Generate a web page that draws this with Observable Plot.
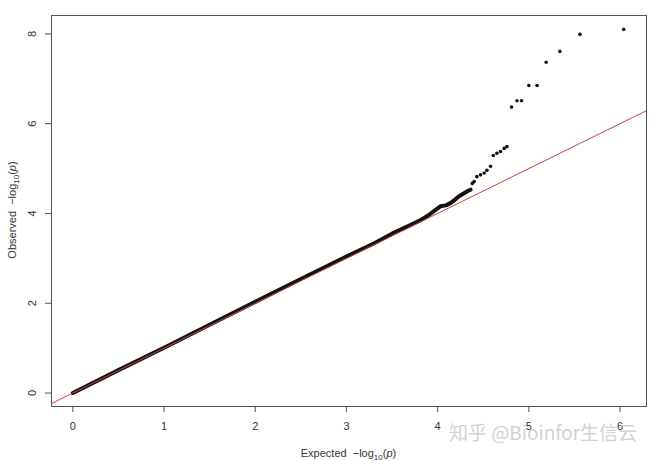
<!DOCTYPE html>
<html>
<head>
<meta charset="utf-8">
<script src="https://cdn.jsdelivr.net/npm/d3@7"></script>
<script src="https://cdn.jsdelivr.net/npm/@observablehq/plot@0.6"></script>
<style>
  html, body { margin: 0; padding: 0; background: #fff; }
  #chart svg { display: block; }
</style>
</head>
<body>
<div id="chart"></div>
<script>
// Dense body of the QQ plot (read along the thick band)
const expectedDense = [0, 0.5, 1.0, 1.5, 2.0, 2.5, 3.0, 3.3, 3.5, 3.7, 3.81, 3.9, 3.97, 4.03, 4.09, 4.14, 4.18, 4.23, 4.29, 4.33, 4.36];
const observedDense = [0, 0.51, 1.01, 1.52, 2.03, 2.54, 3.04, 3.33, 3.55, 3.74, 3.85, 3.96, 4.07, 4.16, 4.18, 4.23, 4.29, 4.38, 4.45, 4.50, 4.53];
// Sparse tail points
const expectedTail = [4.38, 4.40, 4.43, 4.47, 4.51, 4.54, 4.58, 4.61, 4.65, 4.69, 4.73, 4.76, 4.81, 4.87, 4.92, 5.00, 5.09, 5.19, 5.34, 5.56, 6.04];
const observedTail = [4.67, 4.71, 4.82, 4.86, 4.90, 4.96, 5.05, 5.29, 5.34, 5.38, 5.45, 5.49, 6.37, 6.51, 6.51, 6.85, 6.85, 7.37, 7.61, 7.99, 8.10];
// Reference line y = intercept + slope * x
const ablineIntercept = [0];
const ablineSlope = [1];
const xTicks = [0, 1, 2, 3, 4, 5, 6];
const yTicks = [0, 2, 4, 6, 8];

const xDomain = [-0.234, 6.29];
const yDomain = [-0.30, 8.41];

const dense = expectedDense.map((e, i) => ({e, o: observedDense[i]}));
const tail = expectedTail.map((e, i) => ({e, o: observedTail[i]}));
const abline = ablineIntercept.map((a, i) => ({
  x1: xDomain[0], y1: a + ablineSlope[i] * xDomain[0],
  x2: xDomain[1], y2: a + ablineSlope[i] * xDomain[1]
}));

const plot = Plot.plot({
  width: 661,
  height: 461,
  marginLeft: 51,
  marginRight: 15,
  marginTop: 15,
  marginBottom: 55,
  x: {domain: xDomain},
  y: {domain: yDomain},
  style: {fontFamily: "'Liberation Sans', Arial, sans-serif", fontSize: "11px", color: "#333", background: "#fff"},
  marks: [
    Plot.line(dense, {x: "e", y: "o", stroke: "#111", strokeWidth: 4, strokeLinecap: "round", strokeLinejoin: "round"}),
    Plot.dot(tail, {x: "e", y: "o", r: 1.8, fill: "#111", stroke: "none"}),
    Plot.link(abline, {x1: "x1", y1: "y1", x2: "x2", y2: "y2", stroke: "#c94040", strokeWidth: 1, clip: true}),
    Plot.frame({stroke: "#555", strokeWidth: 1}),
    Plot.axisX(xTicks, {tickSize: 6, tickPadding: 10, stroke: "#555", fill: "#333", label: null}),
    Plot.axisY(yTicks, {tickSize: 6, tickFormat: () => "", stroke: "#555", label: null}),
    Plot.text(yTicks, {x: xDomain[0], y: d => d, text: d => String(d), rotate: -90, dx: -19, textAnchor: "middle", lineAnchor: "middle", fill: "#333", fontSize: 11})
  ]
});

document.getElementById("chart").appendChild(plot);

const svg = d3.select(plot);
const font = "'Liberation Sans', Arial, sans-serif";

// x-axis title: Expected -log10(p)
const xt = svg.append("text")
  .attr("x", 348.5).attr("y", 457)
  .attr("text-anchor", "middle")
  .attr("font-family", font).attr("font-size", 11).attr("fill", "#333");
xt.append("tspan").text("Expected  \u2212log");
xt.append("tspan").attr("font-size", 8).attr("dy", 3).text("10");
xt.append("tspan").attr("dy", -3).text("(");
xt.append("tspan").attr("font-style", "italic").text("p");
xt.append("tspan").text(")");

// y-axis title: Observed -log10(p)
const yt = svg.append("text")
  .attr("transform", "translate(16,210) rotate(-90)")
  .attr("text-anchor", "middle")
  .attr("font-family", font).attr("font-size", 11).attr("fill", "#333");
yt.append("tspan").text("Observed  \u2212log");
yt.append("tspan").attr("font-size", 8).attr("dy", 3).text("10");
yt.append("tspan").attr("dy", -3).text("(");
yt.append("tspan").attr("font-style", "italic").text("p");
yt.append("tspan").text(")");

// watermark
svg.append("text")
  .attr("x", 449).attr("y", 440)
  .attr("text-anchor", "start")
  .attr("font-family", "'Noto Sans CJK SC', 'Noto Sans', sans-serif")
  .attr("font-size", 19).attr("fill", "#d2d2d2")
  .text("知乎 @Bioinfor生信云");
</script>
</body>
</html>
